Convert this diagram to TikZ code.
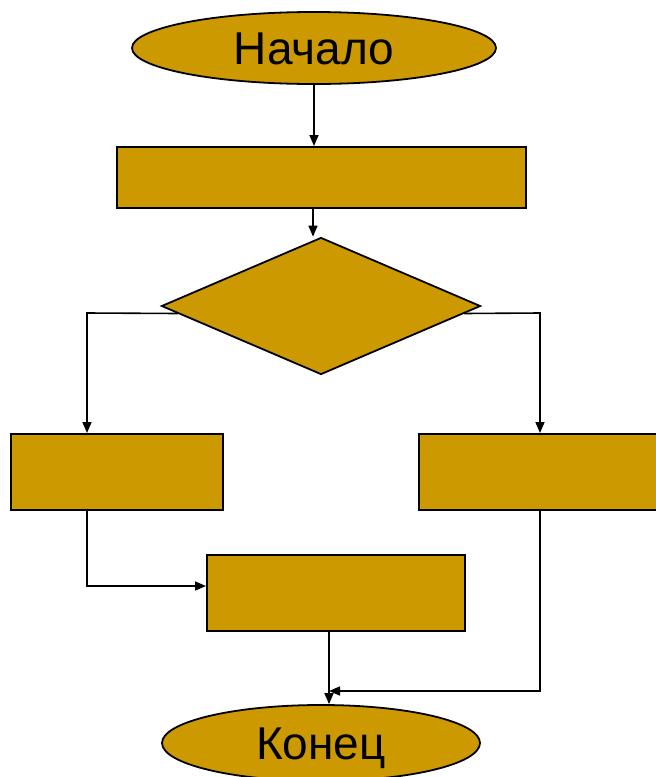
\documentclass[tikz,border=0pt]{standalone}
\usepackage{fontspec}
\setmainfont{Liberation Sans}
\usetikzlibrary{shapes.geometric,arrows.meta}
\definecolor{block}{HTML}{CC9900}
\tikzset{
  term/.style={draw,ellipse,fill=block,line width=1.8pt,inner sep=0pt,
    font=\fontsize{46}{50}\selectfont,text height=33pt,text depth=0pt},
  blk/.style={draw,rectangle,fill=block,line width=2pt,inner sep=0pt},
  cond/.style={draw,diamond,fill=block,line width=1.8pt,inner sep=0pt},
  arr/.style={line width=1.6pt,-{Triangle[length=11pt,width=9pt]}},
}

\begin{document}
\begin{tikzpicture}[x=1pt,y=-1pt]
        \useasboundingbox (0,0) rectangle (656,777);
        \path
        (314,48) node[term,minimum width=364pt,minimum height=72pt](start) {Начало}
        (321.5,177.5) node[blk,minimum width=409pt,minimum height=61pt](box) {}
        (321,306) node[cond,minimum width=319pt,minimum height=137pt](dec) {}
        (117,472) node[blk,minimum width=212pt,minimum height=76pt](lft) {}
        (540,472) node[blk,minimum width=242pt,minimum height=76pt](rgt) {}
        (336,593) node[blk,minimum width=258pt,minimum height=76pt](mid) {}
        (321,743) node[term,minimum width=318pt,minimum height=76pt](fin) {Конец}
        ;
        \coordinate (bj) at (313,208);
        \coordinate (lj) at (87,313);
        \coordinate (rj) at (540,313);
        \coordinate (lm) at (87,586);
        \coordinate (rm) at (540,691);
        \coordinate (dm) at (329,631);

        \draw[arr] (start.south) -- (start.south |- box.north);
        \draw[arr] (bj) -- (bj |- dec.north);
        \draw[arr] (dec.183) -- (lj) -- (lj |- lft.north);
        \draw[arr] (dec.357) -- (rj) -- (rgt.north);
        \draw[arr] (lj |- lft.south) -- (lm) -- (lm -| mid.west);
        \draw[arr] (rgt.south) -- (rm) -- (rm -| dm);
        \draw[arr] (dm) -- (dm |- fin.north);
      \end{tikzpicture}
\end{document}
